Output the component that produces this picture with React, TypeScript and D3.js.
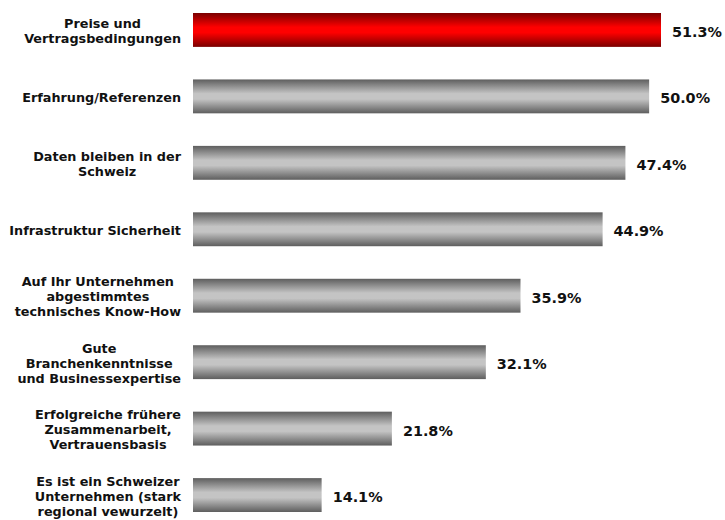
import { useRef, useEffect } from "react";
import * as d3 from "d3";

const categories = [
  "Preise und\nVertragsbedingungen",
  "Erfahrung/Referenzen",
  "Daten bleiben in der\nSchweiz",
  "Infrastruktur Sicherheit",
  "Auf Ihr Unternehmen\nabgestimmtes\ntechnisches Know-How",
  "Gute\nBranchenkenntnisse\nund Businessexpertise",
  "Erfolgreiche frühere\nZusammenarbeit,\nVertrauensbasis",
  "Es ist ein Schweizer\nUnternehmen (stark\nregional vewurzelt)",
];
const values = [51.3, 50.0, 47.4, 44.9, 35.9, 32.1, 21.8, 14.1];
const highlighted = [true, false, false, false, false, false, false, false];

const W = 725;
const H = 520;
const FONT = "Verdana, 'DejaVu Sans', sans-serif";

export default function App() {
  const svgRef = useRef<SVGSVGElement>(null);

  useEffect(() => {
    if (!svgRef.current) return;
    const svg = d3.select(svgRef.current);
    svg.selectAll("*").remove();

    const left = 193;
    const labelRight = 181;
    const x = d3.scaleLinear().domain([0, 51.3]).range([0, 468]);
    const y = d3.scaleBand<string>().domain(categories).range([13, 512]).paddingInner(0.49).paddingOuter(0);

    // Gradients
    const defs = svg.append("defs");
    const grad = (id: string, edge: string, mid: string) => {
      const g = defs.append("linearGradient").attr("id", id).attr("x1", 0).attr("y1", 0).attr("x2", 0).attr("y2", 1);
      g.append("stop").attr("offset", "0%").attr("stop-color", edge);
      g.append("stop").attr("offset", "42%").attr("stop-color", mid);
      g.append("stop").attr("offset", "58%").attr("stop-color", mid);
      g.append("stop").attr("offset", "100%").attr("stop-color", edge);
    };
    grad("gGray", "#5e5e5e", "#c4c4c4");
    grad("gRed", "#7a0000", "#ff0000");

    // Bars
    svg.append("g")
      .selectAll("rect")
      .data(categories)
      .join("rect")
      .attr("x", left)
      .attr("y", (d) => y(d) || 0)
      .attr("width", (_, i) => x(values[i]))
      .attr("height", y.bandwidth())
      .attr("fill", (_, i) => (highlighted[i] ? "url(#gRed)" : "url(#gGray)"));

    // Value labels
    svg.append("g")
      .selectAll("text")
      .data(categories)
      .join("text")
      .attr("x", (_, i) => left + x(values[i]) + 11)
      .attr("y", (d) => (y(d) || 0) + y.bandwidth() / 2 + 2)
      .attr("dy", "0.35em")
      .style("font-family", FONT)
      .style("font-size", "14.4px")
      .style("font-weight", "bold")
      .style("fill", "#111")
      .text((_, i) => `${values[i].toFixed(1)}%`);

    // Category labels: block right-aligned, lines centered
    const lh = 15;
    categories.forEach((c) => {
      const lines = c.split("\n");
      const cy = (y(c) || 0) + y.bandwidth() / 2 + 1;
      const g = svg.append("g");
      const texts = lines.map((line, li) =>
        g.append("text")
          .attr("y", cy + (li - (lines.length - 1) / 2) * lh)
          .attr("dy", "0.35em")
          .attr("text-anchor", "middle")
          .style("font-family", FONT)
          .style("font-size", "12.8px")
          .style("font-weight", "bold")
          .style("fill", "#111")
          .text(line)
      );
      const maxW = d3.max(texts, (t) => (t.node() as SVGTextElement).getComputedTextLength()) || 0;
      texts.forEach((t) => t.attr("x", labelRight - maxW / 2));
    });
  }, []);

  return (
    <div style={{ position: "absolute", left: 0, top: 0 }}>
      <svg ref={svgRef} width={W} height={H} style={{ display: "block", background: "#fff" }} />
    </div>
  );
}
